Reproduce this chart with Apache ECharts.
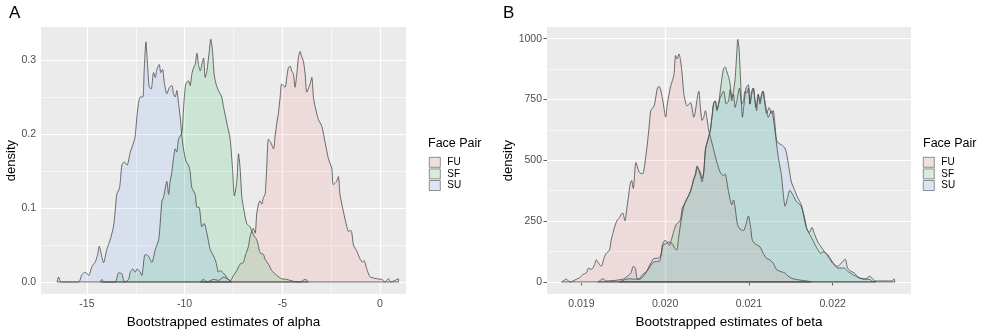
<!DOCTYPE html>
<html>
<head>
<meta charset="utf-8">
<script src="https://cdn.jsdelivr.net/npm/echarts@6/dist/echarts.min.js"></script>
<style>
  html, body { margin: 0; padding: 0; background: #fff; }
  #main { width: 984px; height: 334px; }
</style>
</head>
<body>
<div id="main"></div>
<script>
// groups (legend order)
var groups = ['FU', 'SF', 'SU'];

// panel A: bootstrapped alpha, [x, density]
var alphaFU = [[-9.2,0],[-9.03,0.0035],[-8.86,0],[-8.52,0.0035],[-8.27,0.0022],[-8.01,0.0066],[-7.76,0.0035],[-7.67,0.0015],[-7.5,0.0088],[-7.33,0.0154],[-7.16,0.0242],[-6.99,0.0264],[-6.9,0.0351],[-6.73,0.0483],[-6.65,0.0615],[-6.48,0.0725],[-6.39,0.0659],[-6.31,0.0922],[-6.22,0.1054],[-6.14,0.1098],[-6.05,0.1054],[-5.97,0.1142],[-5.88,0.1186],[-5.8,0.1537],[-5.71,0.1932],[-5.59,0.1888],[-5.45,0.1801],[-5.37,0.1976],[-5.28,0.2152],[-5.2,0.2284],[-5.11,0.2503],[-5.03,0.2679],[-4.86,0.2635],[-4.77,0.2767],[-4.69,0.2899],[-4.6,0.2921],[-4.52,0.2855],[-4.43,0.2811],[-4.35,0.2635],[-4.26,0.2811],[-4.18,0.303],[-4.09,0.3118],[-4.01,0.3052],[-3.92,0.2986],[-3.83,0.2811],[-3.75,0.2569],[-3.58,0.2679],[-3.49,0.2767],[-3.41,0.2503],[-3.32,0.2372],[-3.15,0.2196],[-2.98,0.2108],[-2.81,0.1888],[-2.64,0.1669],[-2.47,0.1537],[-2.39,0.1318],[-2.22,0.1361],[-2.13,0.1427],[-2.05,0.1186],[-1.87,0.095],[-1.7,0.075],[-1.6,0.068],[-1.53,0.07],[-1.45,0.068],[-1.36,0.05],[-1.19,0.042],[-1.02,0.031],[-0.9,0.027],[-0.82,0.029],[-0.68,0.018],[-0.51,0.007],[-0.26,0.005],[-0.09,0.004],[0.09,0.0035],[0.26,0],[0.43,0.0044],[0.55,0],[0.77,0.0022],[0.94,0.0044],[0.95,0]];
var alphaSF = [[-14.32,0],[-14.23,0.0035],[-14.15,0],[-13.55,0],[-13.38,0.0123],[-13.21,0.011],[-13.09,0],[-12.87,0.0035],[-12.78,0.0132],[-12.65,0.0176],[-12.53,0.0132],[-12.44,0.0176],[-12.27,0.0132],[-12.19,0.0088],[-12.02,0.0373],[-11.85,0.0351],[-11.68,0.0264],[-11.5,0.0439],[-11.33,0.0571],[-11.25,0.0791],[-11.16,0.1098],[-11.08,0.1142],[-10.91,0.1361],[-10.82,0.1186],[-10.74,0.1361],[-10.65,0.1493],[-10.57,0.1669],[-10.48,0.1801],[-10.4,0.1757],[-10.31,0.1932],[-10.14,0.202],[-10.06,0.2328],[-10.0,0.2547],[-9.94,0.2679],[-9.8,0.2723],[-9.72,0.2657],[-9.63,0.2811],[-9.54,0.2899],[-9.46,0.2942],[-9.37,0.3096],[-9.29,0.2942],[-9.2,0.2855],[-9.12,0.2942],[-9.03,0.303],[-8.95,0.2767],[-8.86,0.2855],[-8.74,0.3118],[-8.66,0.3285],[-8.57,0.3118],[-8.49,0.2811],[-8.39,0.2679],[-8.27,0.2591],[-8.18,0.2547],[-8.1,0.2503],[-8.01,0.2372],[-7.84,0.2152],[-7.67,0.1932],[-7.55,0.1537],[-7.45,0.1164],[-7.33,0.1361],[-7.24,0.1735],[-7.16,0.1537],[-7.07,0.1142],[-6.99,0.101],[-6.82,0.0791],[-6.65,0.0747],[-6.48,0.0637],[-6.31,0.0571],[-6.22,0.0483],[-6.14,0.0395],[-5.97,0.0373],[-5.88,0.0307],[-5.71,0.0242],[-5.54,0.0154],[-5.28,0.0088],[-5.03,0.0044],[-4.77,0.0035],[-4.43,0.0009],[-4.09,0],[-3.83,0.0035],[-3.66,0]];
var alphaSU = [[-16.53,0],[-16.45,0.0066],[-16.33,0],[-15.43,0],[-15.26,0.0097],[-15.08,0.0132],[-14.91,0.0088],[-14.74,0.0211],[-14.57,0.0272],[-14.45,0.0373],[-14.37,0.0483],[-14.23,0.033],[-14.15,0.026],[-13.98,0.044],[-13.81,0.057],[-13.64,0.075],[-13.55,0.097],[-13.47,0.119],[-13.33,0.1274],[-13.21,0.1581],[-13.09,0.1625],[-12.95,0.1581],[-12.78,0.1757],[-12.61,0.1888],[-12.53,0.1976],[-12.44,0.224],[-12.36,0.2415],[-12.27,0.2503],[-12.14,0.2503],[-12.07,0.2855],[-11.98,0.325],[-11.9,0.2942],[-11.81,0.2635],[-11.71,0.2613],[-11.59,0.2833],[-11.5,0.2767],[-11.42,0.2877],[-11.3,0.2942],[-11.22,0.2833],[-11.13,0.2877],[-11.04,0.2701],[-10.91,0.2547],[-10.77,0.2635],[-10.65,0.2657],[-10.57,0.2547],[-10.48,0.2503],[-10.4,0.2591],[-10.31,0.2415],[-10.23,0.224],[-10.14,0.1976],[-10.06,0.1801],[-9.92,0.1625],[-9.8,0.1581],[-9.72,0.1493],[-9.63,0.1274],[-9.46,0.1186],[-9.37,0.101],[-9.26,0.101],[-9.12,0.0747],[-9.0,0.0791],[-8.86,0.0659],[-8.69,0.0439],[-8.52,0.0351],[-8.39,0.0264],[-8.27,0.0132],[-8.18,0.0154],[-7.98,0.011],[-7.76,0.0035],[-7.58,0]];

// panel B: bootstrapped beta, [x, density]
var betaFU = [[0.018763,0],[0.018783,4],[0.018822,11],[0.018862,0],[0.018901,4],[0.018941,11],[0.01898,17],[0.01902,31],[0.019059,37],[0.019087,57],[0.019118,51],[0.019158,71],[0.019178,91],[0.019217,71],[0.019237,64],[0.019276,104],[0.019296,117],[0.019336,131],[0.019355,171],[0.019375,197],[0.019395,224],[0.019415,244],[0.019434,257],[0.019454,264],[0.019474,277],[0.019493,284],[0.019521,251],[0.019541,297],[0.019565,357],[0.01958,397],[0.0196,417],[0.01962,384],[0.019651,491],[0.019691,451],[0.01973,444],[0.01977,517],[0.019809,637],[0.019829,704],[0.019869,724],[0.019908,797],[0.019928,804],[0.019967,757],[0.020007,677],[0.020026,731],[0.020066,804],[0.020105,851],[0.020125,931],[0.020145,917],[0.020165,937],[0.020184,911],[0.020204,851],[0.020224,771],[0.020263,724],[0.020303,737],[0.020342,677],[0.020402,784],[0.020421,717],[0.020441,664],[0.020461,677],[0.020481,704],[0.0205,671],[0.02052,624],[0.02054,597],[0.020579,544],[0.020619,491],[0.020658,451],[0.020698,437],[0.020717,444],[0.020737,411],[0.020757,371],[0.020796,317],[0.020816,337],[0.020836,304],[0.020863,237],[0.020895,217],[0.020935,211],[0.020966,237],[0.020994,271],[0.021021,224],[0.021041,171],[0.021073,157],[0.021132,144],[0.021171,117],[0.021211,97],[0.02125,91],[0.02129,77],[0.021329,51],[0.021369,44],[0.021428,37],[0.021468,24],[0.021527,13],[0.021606,8],[0.021704,3],[0.021744,0]];
var betaSF = [[0.019454,0],[0.019533,11],[0.019592,13],[0.019632,11],[0.019691,13],[0.01973,31],[0.01977,40],[0.019809,57],[0.019849,77],[0.019888,84],[0.019928,84],[0.019948,104],[0.019967,151],[0.019999,171],[0.020026,164],[0.020054,151],[0.020078,177],[0.020105,211],[0.020133,237],[0.020157,244],[0.020184,257],[0.020204,304],[0.020224,317],[0.020244,331],[0.020283,357],[0.020323,397],[0.020342,424],[0.020362,444],[0.020382,477],[0.020421,437],[0.020441,411],[0.020461,451],[0.020481,544],[0.0205,571],[0.02052,597],[0.02054,624],[0.020559,677],[0.020579,731],[0.020599,744],[0.020619,704],[0.020638,731],[0.020658,784],[0.020678,837],[0.020698,877],[0.020717,884],[0.020737,864],[0.020757,844],[0.020777,811],[0.020796,757],[0.020816,784],[0.020836,837],[0.020856,944],[0.020867,997],[0.020883,957],[0.020903,811],[0.020923,677],[0.020942,731],[0.020966,797],[0.020994,811],[0.021013,731],[0.021033,784],[0.021053,797],[0.021073,744],[0.021092,704],[0.021112,771],[0.021132,744],[0.021152,771],[0.021171,784],[0.021191,744],[0.021211,704],[0.021231,677],[0.02125,691],[0.02127,704],[0.02129,677],[0.02131,624],[0.021329,571],[0.021349,517],[0.021369,477],[0.021389,437],[0.021408,371],[0.021432,311],[0.02146,344],[0.021487,377],[0.021527,357],[0.021566,331],[0.021625,311],[0.021665,251],[0.021693,217],[0.021724,204],[0.021752,224],[0.021783,197],[0.021823,164],[0.021862,144],[0.021902,124],[0.021941,111],[0.021981,91],[0.02202,71],[0.02206,57],[0.022099,57],[0.022139,57],[0.022178,44],[0.022218,35],[0.022257,27],[0.022316,17],[0.022376,11],[0.022435,11],[0.022474,3],[0.022514,0]];
var betaSU = [[0.019197,0],[0.019217,4],[0.019257,13],[0.019296,4],[0.019493,11],[0.019553,24],[0.019592,37],[0.01962,64],[0.019644,57],[0.019671,11],[0.019711,13],[0.01977,37],[0.019809,64],[0.019841,84],[0.019869,97],[0.019908,97],[0.019948,107],[0.019975,151],[0.020007,157],[0.020046,164],[0.020086,157],[0.020117,137],[0.020137,131],[0.020165,191],[0.020184,237],[0.020204,277],[0.020224,311],[0.020263,344],[0.020303,371],[0.020323,397],[0.020342,424],[0.020362,437],[0.020382,471],[0.020421,451],[0.020441,424],[0.020461,451],[0.020481,544],[0.0205,571],[0.02052,597],[0.02054,624],[0.020559,677],[0.020579,737],[0.020599,744],[0.020619,711],[0.020638,731],[0.020658,757],[0.020698,784],[0.020729,731],[0.020757,744],[0.020777,791],[0.020796,744],[0.020816,771],[0.020836,717],[0.020856,744],[0.020887,797],[0.020915,731],[0.020935,744],[0.020954,784],[0.020974,777],[0.020994,797],[0.021013,731],[0.021033,771],[0.021053,797],[0.021085,717],[0.021112,771],[0.021132,731],[0.021164,784],[0.021191,731],[0.021211,691],[0.021242,717],[0.02127,691],[0.02129,704],[0.02131,651],[0.021329,584],[0.021349,571],[0.021389,564],[0.021428,551],[0.021448,531],[0.021468,491],[0.021487,451],[0.021507,411],[0.021546,377],[0.021586,344],[0.021625,317],[0.021665,264],[0.021693,217],[0.021724,197],[0.021764,171],[0.021803,144],[0.021862,117],[0.021882,124],[0.021922,117],[0.021961,97],[0.022,77],[0.02206,64],[0.022119,84],[0.022151,93],[0.022178,57],[0.022218,44],[0.022257,37],[0.022316,17],[0.022395,13],[0.022443,24],[0.022474,13],[0.022514,4],[0.022711,4],[0.022731,13],[0.022743,0]];

// ticks and grid lines
var alphaTicksX = [-15, -10, -5, 0];
var alphaMinorX = [-12.5, -7.5, -2.5];
var alphaTicksY = [0, 0.1, 0.2, 0.3];
var alphaMinorY = [0.05, 0.15, 0.25];
var betaTicksX = [0.019, 0.020, 0.021, 0.022];
var betaMinorX = [0.0195, 0.0205, 0.0215, 0.0225];
var betaTicksY = [0, 250, 500, 750, 1000];
var betaMinorY = [125, 375, 625, 875];

var FONT = 'Liberation Sans, Arial, sans-serif';
var fills = {
    FU: 'rgba(248,118,109,0.13)',
    SF: 'rgba(0,186,56,0.13)',
    SU: 'rgba(97,156,255,0.13)'
};
var keyFills = {FU: '#F1DFDE', SF: '#D9EBDD', SU: '#DDE5F2'};
var OUTLINE = '#4a4a4a';

var myChart = echarts.init(document.getElementById('main'), null, {renderer: 'canvas'});

function gridLines(xs, ys, xMinor, yMinor) {
    var d = [];
    xMinor.forEach(function (v) { d.push({xAxis: v, lineStyle: {width: 0.6}}); });
    yMinor.forEach(function (v) { d.push({yAxis: v, lineStyle: {width: 0.6}}); });
    xs.forEach(function (v) { d.push({xAxis: v, lineStyle: {width: 1.2}}); });
    ys.forEach(function (v) { d.push({yAxis: v, lineStyle: {width: 1.2}}); });
    return {
        silent: true, z: 1, symbol: ['none', 'none'], animation: false,
        label: {show: false},
        lineStyle: {color: '#ffffff', type: 'solid'},
        emphasis: {disabled: true},
        data: d
    };
}

function density(name, data, gi) {
    return {
        name: name, type: 'line', xAxisIndex: gi, yAxisIndex: gi,
        data: data, showSymbol: false, symbol: 'none',
        smooth: 0.25, color: fills[name],
        lineStyle: {color: OUTLINE, width: 0.8},
        areaStyle: {color: fills[name], opacity: 1},
        z: 3, silent: true, animation: false
    };
}

function baseline(data, gi) {
    // bottom edge of the density outline, over the range of its own data
    return {
        type: 'line', xAxisIndex: gi, yAxisIndex: gi, symbol: 'none',
        data: [[data[0][0], 0], [data[data.length - 1][0], 0]],
        lineStyle: {color: OUTLINE, width: 0.8}, z: 4, silent: true, animation: false
    };
}

function xAxisCfg(gi, min, max, ticks, title, fmt) {
    return {
        type: 'value', gridIndex: gi, min: min, max: max,
        axisLine: {show: false},
        axisTick: {show: true, length: 3.5, customValues: ticks, lineStyle: {color: '#333', width: 0.8}},
        axisLabel: {customValues: ticks, color: '#4d4d4d', fontSize: 10.5, margin: 5, fontFamily: FONT, formatter: fmt},
        splitLine: {show: false},
        name: title, nameLocation: 'middle', nameGap: 16,
        nameTextStyle: {color: '#000', fontSize: 13.5, fontFamily: FONT}
    };
}

function yAxisCfg(gi, min, max, ticks, gap, fmt) {
    return {
        type: 'value', gridIndex: gi, min: min, max: max,
        axisLine: {show: false},
        axisTick: {show: true, length: 3.5, customValues: ticks, lineStyle: {color: '#333', width: 0.8}},
        axisLabel: {customValues: ticks, color: '#4d4d4d', fontSize: 10.5, margin: 5, fontFamily: FONT, formatter: fmt},
        splitLine: {show: false},
        name: 'density', nameLocation: 'middle', nameGap: gap,
        nameTextStyle: {color: '#000', fontSize: 13, fontFamily: FONT}
    };
}

function legendCfg(left) {
    return {
        orient: 'vertical', left: left, top: 157, padding: 0,
        itemWidth: 11, itemHeight: 10, itemGap: 1, icon: 'rect',
        selectedMode: false,
        itemStyle: {borderColor: OUTLINE, borderWidth: 0.6},
        textStyle: {fontSize: 10, color: '#000', fontFamily: FONT, padding: [0, 0, 0, 2]},
        data: groups.map(function (g) {
            return {name: g, itemStyle: {color: keyFills[g]}};
        })
    };
}

var sets = [[alphaFU, alphaSF, alphaSU], [betaFU, betaSF, betaSU]];
var series = [];
sets.forEach(function (arrs, gi) {
    arrs.forEach(function (arr, k) {
        var s = density(groups[k], arr, gi);
        if (k === 0) {
            s.markLine = gi === 0
                ? gridLines(alphaTicksX, alphaTicksY, alphaMinorX, alphaMinorY)
                : gridLines(betaTicksX, betaTicksY, betaMinorX, betaMinorY);
        }
        series.push(s);
        series.push(baseline(arr, gi));
    });
});

var titleStyle = {color: '#000', fontWeight: 'normal', fontFamily: FONT};
var option = {
    animation: false,
    backgroundColor: '#ffffff',
    title: [
        {text: 'A', left: 9, top: 5, padding: 0, textStyle: Object.assign({fontSize: 17}, titleStyle)},
        {text: 'B', left: 503, top: 5, padding: 0, textStyle: Object.assign({fontSize: 17}, titleStyle)},
        {text: 'Face Pair', left: 428, top: 137, padding: 0, textStyle: Object.assign({fontSize: 12.5}, titleStyle)},
        {text: 'Face Pair', left: 923, top: 137, padding: 0, textStyle: Object.assign({fontSize: 12.5}, titleStyle)}
    ],
    legend: [legendCfg(429), legendCfg(923)],
    grid: [
        {left: 41, top: 27, width: 365, height: 275, show: true, backgroundColor: '#ebebeb', borderWidth: 0},
        {left: 547, top: 27, width: 364, height: 275, show: true, backgroundColor: '#ebebeb', borderWidth: 0}
    ],
    xAxis: [
        xAxisCfg(0, -17.35, 1.33, alphaTicksX, 'Bootstrapped estimates of alpha', function (v) { return String(v); }),
        xAxisCfg(1, 0.01859, 0.022935, betaTicksX, 'Bootstrapped estimates of beta', function (v) { return v.toFixed(3); })
    ],
    yAxis: [
        yAxisCfg(0, -0.0164, 0.345, alphaTicksY, 20, function (v) { return v.toFixed(1); }),
        yAxisCfg(1, -50, 1048, betaTicksY, 31, function (v) { return String(v); })
    ],
    series: series
};

myChart.setOption(option);
window.addEventListener('resize', function () {
    myChart.resize();
});
</script>
</body>
</html>
